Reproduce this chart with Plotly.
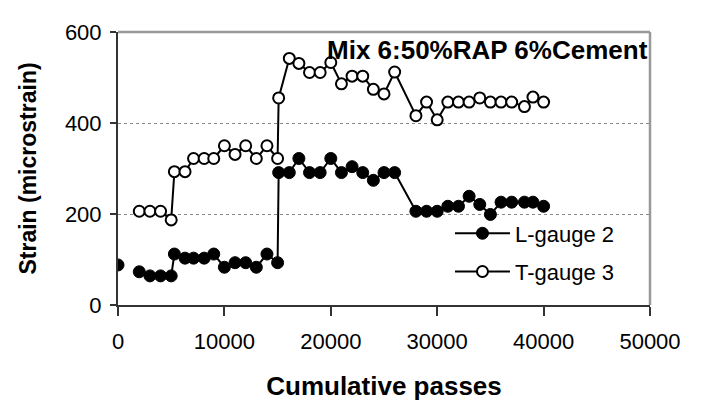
import plotly.graph_objects as go

# Data
l_passes = [0, 1000, 2000, 3000, 4000, 5000, 5300, 6300, 7100, 8100, 9000, 10000, 11000,
            12000, 13000, 14000, 15000, 15100, 16100, 17000, 18000, 19000, 20000, 21000,
            22000, 23000, 24000, 25000, 26000, 28000, 29000, 30000, 31000, 32000, 33000,
            34000, 35000, 36000, 37000, 38200, 39000, 40000]
l_strain = [88, None, 73, 64, 64, 64, 112, 103, 103, 103, 112, 83, 93,
            93, 83, 112, 93, 291, 291, 322, 291, 291, 322, 291,
            304, 291, 274, 291, 291, 206, 206, 206, 217, 217, 239,
            221, 199, 226, 226, 226, 226, 217]

t_passes = [2000, 3000, 4000, 5000, 5300, 6300, 7100, 8100, 9000, 10000, 11000,
            12000, 13000, 14000, 15000, 15100, 16100, 17000, 18000, 19000, 20000, 21000,
            22000, 23000, 24000, 25000, 26000, 28000, 29000, 30000, 31000, 32000, 33000,
            34000, 35000, 36000, 37000, 38200, 39000, 40000]
t_strain = [206, 206, 206, 187, 293, 293, 322, 322, 322, 350, 331,
            350, 322, 350, 322, 455, 542, 531, 511, 511, 533, 486,
            503, 503, 474, 464, 512, 416, 446, 407, 446, 446, 446,
            455, 446, 446, 446, 436, 457, 446]

x_ticks = [0, 10000, 20000, 30000, 40000, 50000]
y_ticks = [0, 200, 400, 600]

FONT = "Liberation Sans, Arial, sans-serif"

fig = go.Figure()
fig.add_trace(go.Scatter(
    x=l_passes, y=l_strain, name="L-gauge 2", mode="lines+markers",
    line=dict(color="black", width=2),
    marker=dict(symbol="circle", size=12, color="black", line=dict(color="black", width=1)),
    connectgaps=False, legend="legend",
))
fig.add_trace(go.Scatter(
    x=t_passes, y=t_strain, name="T-gauge 3", mode="lines+markers",
    line=dict(color="black", width=2),
    marker=dict(symbol="circle", size=11, color="white", line=dict(color="black", width=2)),
    legend="legend2",
))

leg_common = dict(
    xanchor="left", yanchor="middle", bgcolor="rgba(0,0,0,0)", borderwidth=0,
    font=dict(family=FONT, size=22, color="black"), itemwidth=55,
)

fig.update_layout(
    width=702, height=401,
    margin=dict(l=118, r=52, t=32, b=96),
    paper_bgcolor="white", plot_bgcolor="white",
    font=dict(family=FONT, size=22, color="black"),
    showlegend=True,
    legend=dict(x=0.624, y=0.262, **leg_common),
    legend2=dict(x=0.624, y=0.122, **leg_common),
    xaxis=dict(
        range=[0, 50000], tickvals=x_ticks, ticktext=[str(v) for v in x_ticks],
        showline=True, linecolor="#333333", linewidth=2,
        ticks="outside", ticklen=9, tickcolor="#333333", tickwidth=1.5,
        showgrid=False, zeroline=False, ticklabelstandoff=7, automargin=False,
        tickfont=dict(family=FONT, size=22),
        title=dict(text="<b>Cumulative passes</b>", font=dict(family=FONT, size=26), standoff=26),
    ),
    yaxis=dict(
        range=[0, 600], tickvals=y_ticks, ticktext=[str(v) for v in y_ticks],
        showline=True, linecolor="#333333", linewidth=2,
        ticks="outside", ticklen=6, tickcolor="#333333", tickwidth=1.5,
        showgrid=True, gridcolor="#8a8a8a", griddash="dot", gridwidth=1,
        zeroline=False, ticklabelstandoff=4, automargin=False,
        tickfont=dict(family=FONT, size=22),
        title=dict(text="<b>Strain (microstrain)</b>", font=dict(family=FONT, size=23), standoff=22),
    ),
    shapes=[
        dict(type="line", xref="paper", yref="paper", x0=0, x1=1, y0=1, y1=1,
             line=dict(color="#999999", width=2.5)),
        dict(type="line", xref="paper", yref="paper", x0=1, x1=1, y0=0, y1=1,
             line=dict(color="#999999", width=2.5)),
    ],
    annotations=[
        dict(text="<b>Mix 6:50%RAP 6%Cement</b>", xref="paper", yref="paper",
             x=1.0, y=0.935, xanchor="right", yanchor="middle", showarrow=False,
             font=dict(family=FONT, size=26, color="black")),
    ],
)

fig.write_html("out.html")
